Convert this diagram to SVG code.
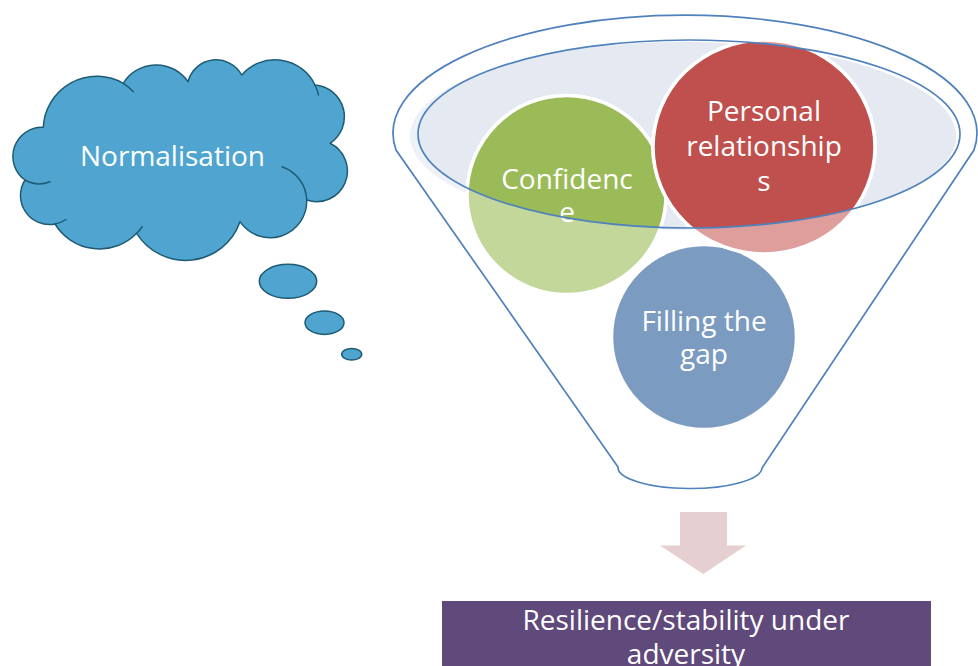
<svg xmlns="http://www.w3.org/2000/svg" width="978" height="666" viewBox="0 0 978 666">
  <defs>
    <style>
      .label { font-family: "Open Sans", "Noto Sans", sans-serif; fill: #ffffff; text-anchor: middle; }
      .big { font-size: 28px; }
      .cloud { fill: #4fa5d0; stroke: #1f5b73; stroke-width: 1.5; stroke-linejoin: round; }
      .crease { fill: none; stroke: #1f5b73; stroke-width: 1.5; stroke-linecap: round; }
      .disc { stroke: #ffffff; stroke-width: 3.5; }
      .rim { fill: none; stroke: #4f81bd; stroke-width: 1.7; }
    </style>
    <!-- opening of the funnel: shapes inside it keep full colour -->
    <clipPath id="mouth">
      <ellipse cx="689" cy="134" rx="271" ry="94"/>
    </clipPath>
  </defs>

  <rect width="978" height="666" fill="#ffffff"/>

  <!-- thought cloud -->
  <g id="normalisation">
    <path class="cloud" d="M43.3,127.3 A53.5,53.5 0 0 1 123.3,83.3 A38.6,38.6 0 0 1 188,81.7 A29.1,29.1 0 0 1 241.7,75 A44.2,44.2 0 0 1 315,85 A31.8,31.8 0 0 1 330,143.3 A30.7,30.7 0 0 1 306.7,200 A36.5,36.5 0 0 1 240,221.7 A57.6,57.6 0 0 1 136.7,233.3 A52.1,52.1 0 0 1 55,224 A29,29 0 0 1 25,180 A29.1,29.1 0 0 1 43.3,127.3 Z"/>
    <path class="crease" d="M123.3,83.3 A53.5,53.5 0 0 1 133.3,91.7"/>
    <path class="crease" d="M315,85 A44.2,44.2 0 0 1 318.5,95"/>
    <path class="crease" d="M282,166.7 A36.5,36.5 0 0 1 306.7,200"/>
    <path class="crease" d="M50,181.7 A29.1,29.1 0 0 1 25,180"/>
    <path class="crease" d="M66,219.5 A29,29 0 0 1 55,224"/>
    <path class="crease" d="M142.2,226.7 A52.1,52.1 0 0 1 136.7,233.3"/>
    <ellipse class="cloud" cx="288" cy="281.3" rx="28.7" ry="17"/>
    <ellipse class="cloud" cx="324.5" cy="322.7" rx="19.5" ry="11.7"/>
    <ellipse class="cloud" cx="351.7" cy="354.2" rx="10" ry="5.8"/>
    <text class="label big" x="172.5" y="166">Normalisation</text>
  </g>

  <!-- funnel opening surface -->
  <g id="funnel-mouth">
    <ellipse cx="683" cy="136" rx="273" ry="94" fill="#eef1f7"/>
    <ellipse cx="683" cy="136" rx="273" ry="94" fill="#e5e9f2" clip-path="url(#mouth)"/>
  </g>

  <g id="filling-the-gap">
    <circle class="disc" cx="704" cy="337" r="92.5" fill="#7b9bc0"/>
    <text class="label big" x="704" y="331">Filling the</text>
    <text class="label big" x="704" y="364">gap</text>
  </g>

  <g id="confidence">
    <circle class="disc" cx="566.5" cy="195" r="99.5" fill="#c4d79b"/>
    <circle class="disc" cx="566.5" cy="195" r="99.5" fill="#9bbb59" clip-path="url(#mouth)"/>
    <text class="label big" x="567" y="189">Confidenc</text>
    <text class="label big" x="567" y="222">e</text>
  </g>

  <g id="personal-relationships">
    <ellipse class="disc" cx="764" cy="147" rx="111" ry="107" fill="#dd9e9c"/>
    <ellipse class="disc" cx="764" cy="147" rx="111" ry="107" fill="#c0504d" clip-path="url(#mouth)"/>
    <text class="label big" x="764" y="121">Personal</text>
    <text class="label big" x="764" y="156">relationship</text>
    <text class="label big" x="764" y="191">s</text>
  </g>

  <!-- funnel outline drawn over its contents -->
  <g id="funnel">
    <ellipse class="rim" cx="689" cy="134" rx="271" ry="94"/>
    <path class="rim" d="M396,150 A292,118 0 1 1 974,150 L762,468 A72,21 0 0 1 618,467 Z"/>
  </g>

  <g id="connectors">
    <path d="M680,512 L727,512 L727,545.5 L746,545.5 L703.3,574 L660,545.5 L680,545.5 Z" fill="#e6cfd0"/>
  </g>

  <g id="resilience">
    <rect x="442" y="601" width="489" height="70" fill="#604a7b"/>
    <text class="label big" x="686" y="630">Resilience/stability under</text>
    <text class="label big" x="686" y="664">adversity</text>
  </g>
</svg>
